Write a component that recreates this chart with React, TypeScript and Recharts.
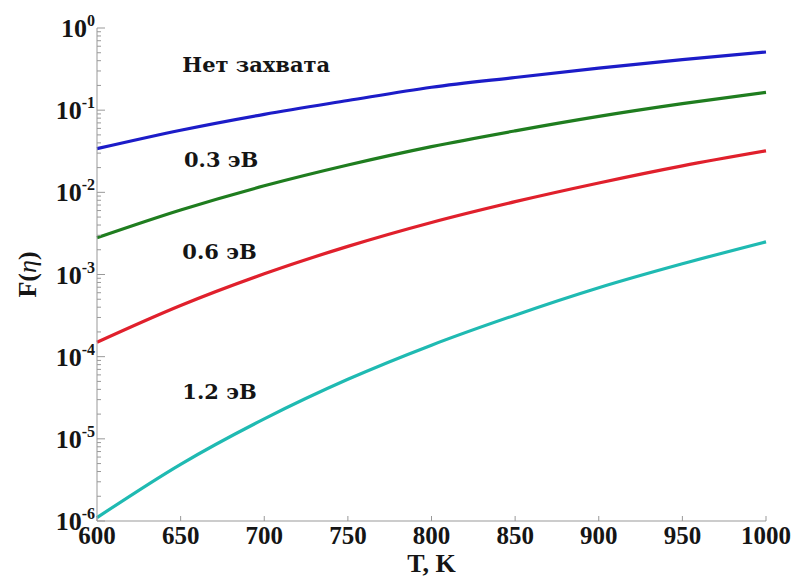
import { LineChart, Line, XAxis, YAxis, ReferenceDot } from 'recharts';

// temperatures, K
const temps = [600, 650, 700, 750, 800, 850, 900, 950, 1000];
// F(eta) for each trap depth
const noTrap = [0.034, 0.057, 0.089, 0.131, 0.19, 0.25, 0.325, 0.413, 0.51];
const trap03 = [0.0028, 0.0061, 0.012, 0.0215, 0.036, 0.056, 0.084, 0.12, 0.165];
const trap06 = [0.00015, 0.00042, 0.00102, 0.0022, 0.0043, 0.0077, 0.013, 0.021, 0.032];
const trap12 = [1.1e-6, 4.9e-6, 1.75e-5, 5.3e-5, 1.38e-4, 3.2e-4, 6.9e-4, 1.35e-3, 2.5e-3];

const xTicks = [600, 650, 700, 750, 800, 850, 900, 950, 1000];
const yMajorTicks = [1e-6, 1e-5, 1e-4, 1e-3, 1e-2, 1e-1, 1];
const minorSteps = [2, 3, 4, 5, 6, 7, 8, 9];

const noteTexts = ['Нет захвата', '0.3 эВ', '0.6 эВ', '1.2 эВ'];
const noteT = [651, 652, 651, 651];
const noteF = [0.355, 0.0248, 0.00193, 3.8e-5];

const data = temps.map((t, i) => ({
  t,
  none: noTrap[i],
  e03: trap03[i],
  e06: trap06[i],
  e12: trap12[i],
}));

const yTicks = [
  ...yMajorTicks,
  ...yMajorTicks.slice(0, -1).flatMap((d) => minorSteps.map((m) => m * d)),
].sort((a, b) => a - b);

const FONT = '"Liberation Serif", "DejaVu Serif", serif';
const NOTE_FONT = '"DejaVu Serif", serif';

const LeftTick = (props: any) => {
  const { x, y, payload } = props;
  const v = payload.value;
  const major = yMajorTicks.includes(v);
  const exp = Math.round(Math.log10(v));
  return (
    <g>
      <line x1={x} x2={x + (major ? 8 : 4)} y1={y} y2={y} stroke="#999" strokeWidth={1} />
      {major && (
        <text x={x - 2} y={y + 9} textAnchor="end" fontFamily={FONT} fontWeight="bold" fontSize={26} fill="#151515">
          10
          <tspan dy={-11} fontSize={16}>
            {exp === 0 ? '0' : `-${Math.abs(exp)}`}
          </tspan>
        </text>
      )}
    </g>
  );
};

const RightTick = (props: any) => {
  const { x, y, payload } = props;
  const major = yMajorTicks.includes(payload.value);
  return <line x1={x} x2={x - (major ? 8 : 4)} y1={y} y2={y} stroke="#555" strokeWidth={1} />;
};

const BottomTick = (props: any) => {
  const { x, y, payload } = props;
  return (
    <g>
      <line x1={x} x2={x} y1={y} y2={y - 5} stroke="#999" />
      <text x={x} y={y + 23} textAnchor="middle" fontFamily={FONT} fontWeight="bold" fontSize={25} fill="#151515">
        {payload.value}
      </text>
    </g>
  );
};

const TopTick = (props: any) => {
  const { x, y } = props;
  return <line x1={x} x2={x} y1={y} y2={y + 4} stroke="#bbb" />;
};

const XLabel = (props: any) => {
  const vb = props.viewBox;
  return (
    <text x={vb.x + vb.width / 2} y={vb.y + 51} textAnchor="middle" fontFamily={FONT} fontWeight="bold" fontSize={26} fill="#151515">
      T, K
    </text>
  );
};

const YLabel = (props: any) => {
  const vb = props.viewBox;
  const cx = 27;
  const cy = vb.y + vb.height / 2;
  return (
    <text x={cx} y={cy} transform={`rotate(-90 ${cx} ${cy})`} textAnchor="middle" dominantBaseline="central" fontFamily={FONT} fontWeight="bold" fontSize={26} fill="#151515">
      F(<tspan fontStyle="italic" fontWeight="normal">η</tspan>)
    </text>
  );
};

export default function App() {
  return (
    <div style={{ position: 'absolute', left: 0, top: 0, width: 795, height: 577, background: '#fff' }}>
      <LineChart width={795} height={577} data={data} margin={{ top: 28, right: 29, bottom: 0, left: 0 }}>
        <XAxis
          dataKey="t"
          type="number"
          domain={[600, 1000]}
          ticks={xTicks}
          interval={0}
          height={56}
          tickSize={0}
          tickMargin={0}
          tickLine={false}
          stroke="#999"
          tick={<BottomTick />}
          label={<XLabel />}
        />
        <XAxis
          xAxisId="top"
          orientation="top"
          dataKey="t"
          type="number"
          domain={[600, 1000]}
          ticks={xTicks}
          interval={0}
          height={0}
          tickSize={0}
          tickMargin={0}
          tickLine={false}
          stroke="#bbb"
          tick={<TopTick />}
        />
        <YAxis
          type="number"
          scale="log"
          domain={[1e-6, 1]}
          allowDataOverflow
          ticks={yTicks}
          interval={0}
          width={97}
          tickSize={0}
          tickMargin={0}
          tickLine={false}
          stroke="#999"
          tick={<LeftTick />}
          label={<YLabel />}
        />
        <YAxis
          yAxisId="r"
          orientation="right"
          type="number"
          scale="log"
          domain={[1e-6, 1]}
          allowDataOverflow
          ticks={yTicks}
          interval={0}
          width={0}
          tickSize={0}
          tickMargin={0}
          tickLine={false}
          stroke="#555"
          tick={<RightTick />}
        />
        <Line type="monotone" dataKey="none" stroke="#1c1cc8" strokeWidth={3.2} dot={false} isAnimationActive={false} />
        <Line type="monotone" dataKey="e03" stroke="#1f7d1f" strokeWidth={3.2} dot={false} isAnimationActive={false} />
        <Line type="monotone" dataKey="e06" stroke="#e0202c" strokeWidth={3.2} dot={false} isAnimationActive={false} />
        <Line type="monotone" dataKey="e12" stroke="#1fbab2" strokeWidth={3.2} dot={false} isAnimationActive={false} />
        {noteTexts.map((txt, i) => (
          <ReferenceDot
            key={txt}
            x={noteT[i]}
            y={noteF[i]}
            r={0}
            ifOverflow="visible"
            shape={(p: any) => (
              <text x={p.cx} y={p.cy} dominantBaseline="central" fontFamily={NOTE_FONT} fontWeight="bold" fontSize={21} fill="#151515">
                {txt}
              </text>
            )}
          />
        ))}
      </LineChart>
    </div>
  );
}
